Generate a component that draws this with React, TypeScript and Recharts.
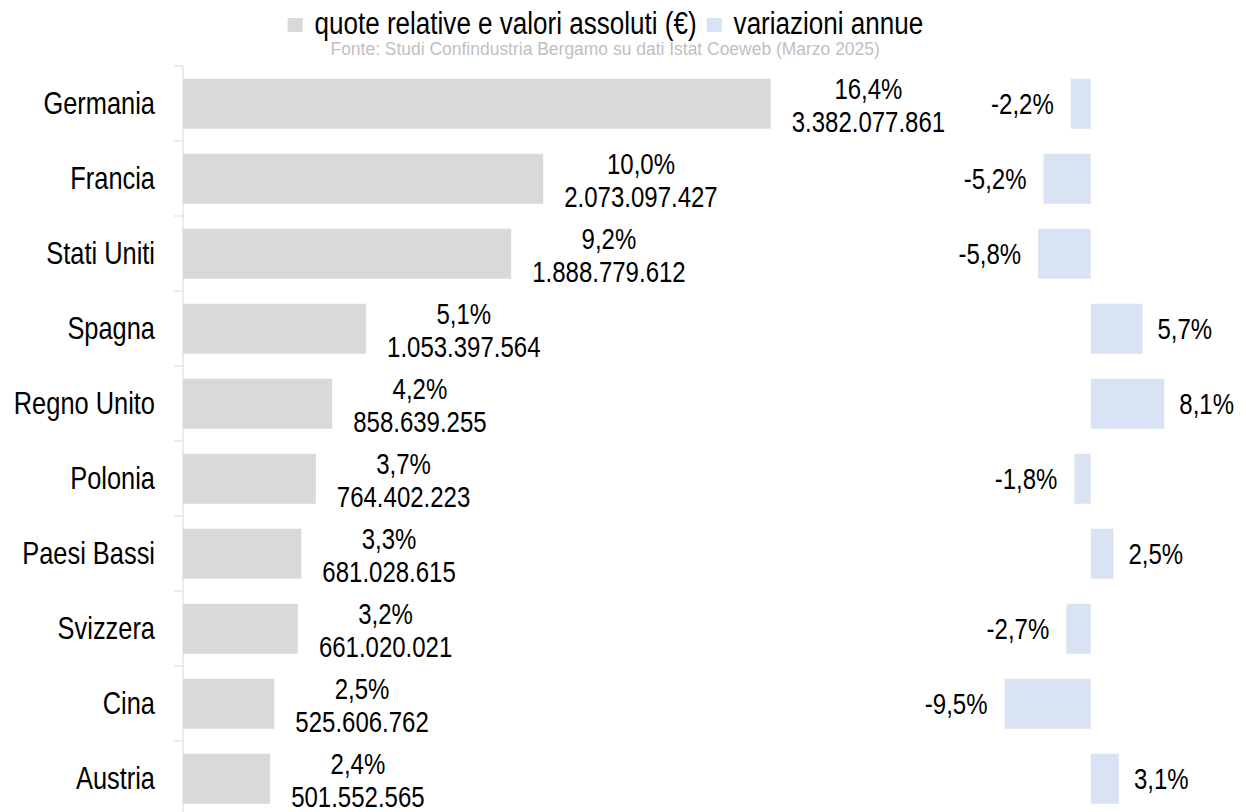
import React from 'react';
import { BarChart, Bar, XAxis, YAxis, LabelList } from 'recharts';

// dati: export Bergamo per paese (Istat Coeweb, marzo 2025)
const paesi = ['Germania', 'Francia', 'Stati Uniti', 'Spagna', 'Regno Unito', 'Polonia', 'Paesi Bassi', 'Svizzera', 'Cina', 'Austria'];
const valoriAssoluti = [3382077861, 2073097427, 1888779612, 1053397564, 858639255, 764402223, 681028615, 661020021, 525606762, 501552565];
const quote = [16.4, 10.0, 9.2, 5.1, 4.2, 3.7, 3.3, 3.2, 2.5, 2.4];
const variazioni = [-2.2, -5.2, -5.8, 5.7, 8.1, -1.8, 2.5, -2.7, -9.5, 3.1];

const legenda = ['quote relative e valori assoluti (€)', 'variazioni annue'];
const fonte = 'Fonte: Studi Confindustria Bergamo su dati Istat Coeweb (Marzo 2025)';

const data = paesi.map((nome, i) => ({
  nome,
  valore: valoriAssoluti[i],
  quota: quote[i],
  variazione: variazioni[i],
}));

// niente Arial Narrow: Liberation Sans compresso in orizzontale
const FONT = '"Liberation Sans", Arial, sans-serif';
const FS_TICK = 31;
const SX_TICK = 0.82;
const FS_LAB = 30;
const SX_LAB = 0.8;
const GRIGIO = '#d9d9d9';
const AZZURRO = '#dae3f3';

const fmtPct = (v: number) => v.toFixed(1).replace('.', ',') + '%';
const fmtNum = (v: number) => String(v).replace(/\B(?=(\d{3})+(?!\d))/g, '.');

let ctx: CanvasRenderingContext2D | null = null;
function misura(testo: string, size: number) {
  if (!ctx) ctx = document.createElement('canvas').getContext('2d');
  if (!ctx) return testo.length * size * 0.55;
  ctx.font = `${size}px ${FONT}`;
  return ctx.measureText(testo).width;
}

const TickPaese = (props: any) => {
  const { x, y, payload } = props;
  const half = typeof payload?.offset === 'number' && payload.offset > 0 ? payload.offset : 37.5;
  return (
    <g>
      <line x1={x + 19} x2={x + 28} y1={y - half} y2={y - half} stroke={GRIGIO} strokeWidth={1} />
      <text
        transform={`translate(${x} ${y + 10}) scale(${SX_TICK} 1)`}
        textAnchor="end"
        fontFamily={FONT}
        fontSize={FS_TICK}
        fill="#000"
      >
        {payload.value}
      </text>
    </g>
  );
};

const EtichettaQuota = (props: any) => {
  const { x, y, width, height, index } = props;
  const d = data[index];
  if (!d) return null;
  const r1 = fmtPct(d.quota);
  const r2 = fmtNum(d.valore);
  const w = Math.max(misura(r1, FS_LAB), misura(r2, FS_LAB)) * SX_LAB;
  const cx = x + width + 21 + w / 2;
  const cy = y + height / 2;
  return (
    <text
      transform={`translate(${cx} ${cy}) scale(${SX_LAB} 1)`}
      textAnchor="middle"
      fontFamily={FONT}
      fontSize={FS_LAB}
      fill="#000"
    >
      <tspan x={0} y={-5}>{r1}</tspan>
      <tspan x={0} y={28}>{r2}</tspan>
    </text>
  );
};

const EtichettaVar = (props: any) => {
  const { x, y, width, height, value } = props;
  const sx = Math.min(x, x + width);
  const dx = Math.max(x, x + width);
  const neg = value < 0;
  const tx = neg ? sx - 17 : dx + 15;
  return (
    <text
      transform={`translate(${tx} ${y + height / 2 + 10}) scale(${SX_LAB} 1)`}
      textAnchor={neg ? 'end' : 'start'}
      fontFamily={FONT}
      fontSize={FS_LAB}
      fill="#000"
    >
      {fmtPct(value)}
    </text>
  );
};

const SX_LEG = 0.84;
const Quadratino = ({ color }: { color: string }) => (
  <span
    style={{
      display: 'inline-block',
      width: 15 / SX_LEG,
      height: 14,
      background: color,
      marginRight: 12 / SX_LEG,
      verticalAlign: 2,
    }}
  />
);

export default function App() {
  return (
    <div style={{ position: 'absolute', left: 0, top: 0, width: 1246, height: 812, background: '#fff', overflow: 'hidden' }}>
      <BarChart
        width={1246}
        height={812}
        data={data}
        layout="vertical"
        margin={{ top: 66, right: 10, bottom: -4, left: 0 }}
        barCategoryGap="17%"
      >
        <XAxis xAxisId="abs" type="number" hide domain={[0, 6.06e9]} allowDataOverflow />
        <XAxis xAxisId="var" type="number" hide domain={[-100, 16]} allowDataOverflow />
        <YAxis
          yAxisId="a"
          type="category"
          dataKey="nome"
          width={183}
          tickSize={0}
          tickMargin={28}
          tickLine={false}
          axisLine={{ stroke: GRIGIO }}
          tick={<TickPaese />}
          interval={0}
        />
        <YAxis yAxisId="b" type="category" dataKey="nome" hide />
        <Bar xAxisId="abs" yAxisId="a" dataKey="valore" fill={GRIGIO} isAnimationActive={false}>
          <LabelList dataKey="valore" content={EtichettaQuota} />
        </Bar>
        <Bar xAxisId="var" yAxisId="b" dataKey="variazione" fill={AZZURRO} isAnimationActive={false}>
          <LabelList dataKey="variazione" content={EtichettaVar} />
        </Bar>
      </BarChart>
      <div style={{ position: 'absolute', left: 0, top: 7, width: 1210, textAlign: 'center' }}>
        <div
          style={{
            display: 'inline-block',
            transform: `scaleX(${SX_LEG})`,
            transformOrigin: 'center',
            fontFamily: FONT,
            fontSize: FS_TICK,
            lineHeight: '34px',
            color: '#000',
            whiteSpace: 'nowrap',
          }}
        >
          <Quadratino color={GRIGIO} />
          {legenda[0]}
          <span style={{ display: 'inline-block', width: 10 / SX_LEG }} />
          <Quadratino color={AZZURRO} />
          {legenda[1]}
        </div>
      </div>
      <div style={{ position: 'absolute', left: 0, top: 38, width: 1210, textAlign: 'center' }}>
        <div
          style={{
            display: 'inline-block',
            transform: 'scaleX(0.97)',
            transformOrigin: 'center',
            fontFamily: FONT,
            fontSize: 18,
            lineHeight: '22px',
            color: '#bfbfbf',
            whiteSpace: 'nowrap',
          }}
        >
          {fonte}
        </div>
      </div>
    </div>
  );
}
